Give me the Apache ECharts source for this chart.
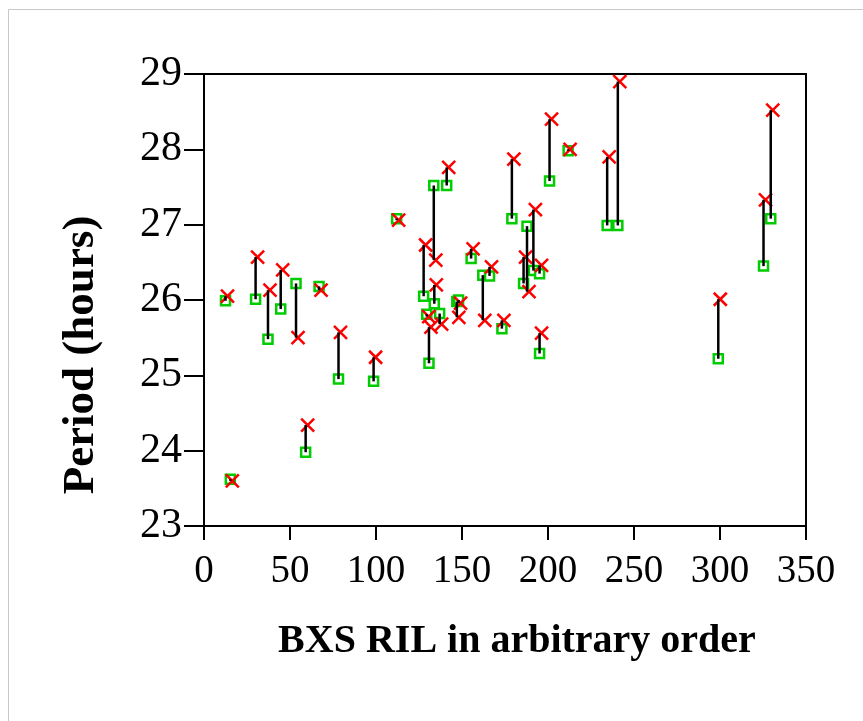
<!DOCTYPE html>
<html>
<head>
<meta charset="utf-8">
<script src="https://cdn.jsdelivr.net/npm/echarts@6/dist/echarts.min.js"></script>
<style>
html,body{margin:0;padding:0;background:#fff;}
#main{width:863px;height:721px;}
</style>
</head>
<body>
<div id="main"></div>
<script>
// BXS RIL (arbitrary order)
var ril = [12.5, 15.3, 30.0, 37.2, 44.6, 53.5, 59.1, 66.9, 78.2, 98.6, 112.0, 127.7, 129.5, 130.8, 133.6, 133.9, 137.0, 141.1, 147.0, 148.0, 155.3, 162.1, 166.0, 173.2, 179.0, 185.8, 187.8, 191.5, 195.1, 195.1, 200.9, 211.7, 234.4, 240.6, 299.0, 325.3, 329.5];
// green squares
var periodGreen = [25.99, 23.62, 26.01, 25.48, 25.88, 26.22, 23.98, 26.18, 24.95, 24.92, 27.08, 26.05, 25.81, 25.16, 27.52, 25.95, 25.82, 27.52, 25.98, 26.00, 26.55, 26.33, 26.32, 25.62, 27.08, 26.22, 26.98, 26.39, 26.35, 25.29, 27.58, 27.98, 26.99, 26.99, 25.22, 26.45, 27.08];
// red crosses
var periodRed = [26.05, 23.60, 26.57, 26.13, 26.40, 25.50, 24.34, 26.13, 25.57, 25.24, 27.06, 26.73, 25.78, 25.64, 26.53, 26.20, 25.68, 27.76, 25.77, 25.96, 26.68, 25.73, 26.44, 25.73, 27.87, 26.57, 26.11, 27.20, 26.46, 25.56, 28.40, 28.00, 27.90, 28.90, 26.01, 27.33, 28.52];
var xTicks = [0, 50, 100, 150, 200, 250, 300, 350];
var yTicks = [23, 24, 25, 26, 27, 28, 29];

var greenData = ril.map(function (x, i) { return [x, periodGreen[i]]; });
var redData = ril.map(function (x, i) { return [x, periodRed[i]]; });
var segData = ril.map(function (x, i) { return [x, periodGreen[i], periodRed[i]]; });

var chart = echarts.init(document.getElementById('main'), null, {renderer: 'canvas'});
var serif = '"Liberation Serif", "DejaVu Serif", serif';
chart.setOption({
  backgroundColor: '#fff',
  animation: false,
  graphic: [{
    type: 'rect', shape: {x: 8.5, y: 9.5, width: 900, height: 800},
    style: {fill: 'none', stroke: '#c8c8c8', lineWidth: 1}, silent: true, z: -10
  }],
  grid: {left: 204, top: 74, right: 57, bottom: 195, show: true, borderColor: '#000', borderWidth: 2, backgroundColor: 'transparent'},
  xAxis: {
    type: 'value', min: xTicks[0], max: xTicks[xTicks.length - 1], interval: 50,
    axisLine: {show: true, onZero: false, lineStyle: {color: '#000', width: 2}},
    axisTick: {show: true, length: 14, lineStyle: {color: '#000', width: 2}},
    splitLine: {show: false},
    axisLabel: {color: '#000', fontFamily: serif, fontSize: 39, margin: 26},
    name: 'BXS RIL in arbitrary order', nameLocation: 'middle', nameGap: 96,
    nameTextStyle: {color: '#000', fontFamily: serif, fontSize: 40, fontWeight: 'bold', padding: [0, 0, 0, 24]}
  },
  yAxis: {
    type: 'value', min: yTicks[0], max: yTicks[yTicks.length - 1], interval: 1,
    axisLine: {show: true, onZero: false, lineStyle: {color: '#000', width: 2}},
    axisTick: {show: true, length: 20, lineStyle: {color: '#000', width: 2}},
    splitLine: {show: false},
    axisLabel: {color: '#000', fontFamily: serif, fontSize: 42, margin: 22},
    name: 'Period (hours)', nameLocation: 'middle', nameGap: 100,
    nameTextStyle: {color: '#000', fontFamily: serif, fontSize: 45, fontWeight: 'bold', padding: [0, 110, 0, 0]}
  },
  series: [
    {
      type: 'scatter', data: greenData, symbol: 'rect', symbolSize: 9, z: 2,
      itemStyle: {color: '#fff', borderColor: '#00cc00', borderWidth: 2.5, opacity: 1}
    },
    {
      type: 'scatter', data: redData, symbol: 'path://M0,0L10,10M10,0L0,10', symbolSize: 13, symbolOffset: [2, 0], z: 3,
      itemStyle: {color: 'none', borderColor: '#ff0000', borderWidth: 2.5, opacity: 1}
    },
    {
      type: 'custom', data: segData, z: 4,
      encode: {x: 0, y: [1, 2]},
      renderItem: function (params, api) {
        var p1 = api.coord([api.value(0), api.value(1)]);
        var p2 = api.coord([api.value(0), api.value(2)]);
        return {type: 'line', shape: {x1: p1[0], y1: p1[1], x2: p2[0], y2: p2[1]},
          style: {stroke: '#000', lineWidth: 2.5}};
      }
    }
  ]
});
</script>
</body>
</html>
